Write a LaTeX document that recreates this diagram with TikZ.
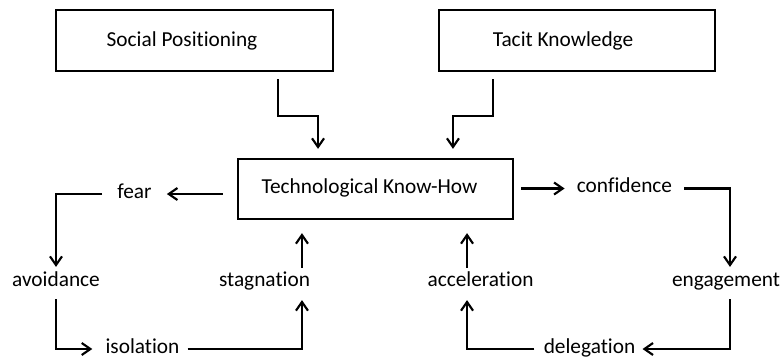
\documentclass[tikz,border=0pt]{standalone}
\usepackage{fontspec}
\setmainfont{Carlito}[Ligatures={NoCommon,NoContextual},RawFeature={-liga;-clig;-dlig}]
\usetikzlibrary{arrows.meta}
\begin{document}
\begin{tikzpicture}[x=0.75pt,y=-0.75pt,
  box/.style={draw,line width=1.7pt,rectangle,inner sep=0pt},
  lbl/.style={font=\fontsize{16}{19}\selectfont,text height=0.65em,text depth=0pt,inner sep=0pt,anchor=center},
  arr/.style={line width=1.6pt,-{Straight Barb[length=6.5pt,width=9pt]}}]
\useasboundingbox (0,0) rectangle (782,361);
% boxes
\node[box,minimum width=207.75pt,minimum height=45.75pt] (sp) at (194.5,40.5) {};
\node[box,minimum width=207pt,minimum height=45.75pt] (tacit) at (577,40.5) {};
\node[box,minimum width=206.25pt,minimum height=45pt] (tk) at (375.5,189) {};
\node[lbl] (sptext) at (182,42.5) {Social Positioning};
\node[lbl] (tacittext) at (563,42.5) {Tacit Knowledge};
\node[lbl] (tktext) at (369.5,189.5) {Technological Know-How};
% labels
\node[lbl] (fear) at (134.5,194) {fear};
\node[lbl] (avoidance) at (56,282.5) {avoidance};
\node[lbl] (stagnation) at (264.5,282.5) {stagnation};
\node[lbl] (isolation) at (142.5,349) {isolation};
\node[lbl] (confidence) at (624.5,188.5) {confidence};
\node[lbl] (engagement) at (726,282.5) {engagement};
\node[lbl] (acceleration) at (480.5,282.5) {acceleration};
\node[lbl] (delegation) at (589.5,349) {delegation};
% top connectors
\draw[arr,shorten <=5.25pt,shorten >=6.75pt] ([xshift=62.6pt]sp.south) -- ++(0,44) -| ([xshift=-43.1pt]tk.north);
\draw[arr,shorten <=5.25pt,shorten >=6.75pt] ([xshift=-63pt]tacit.south) -- ++(0,44) -| ([xshift=58.1pt]tk.north);
% left loop
\draw[arr,shorten <=10.5pt,shorten >=11.25pt] (tk.west |- fear) -- (fear.east);
\draw[arr,shorten <=11.25pt,shorten >=8.25pt] (fear.west) -| (avoidance.north);
\draw[arr,shorten <=9pt,shorten >=9.75pt] (avoidance.south) |- (isolation.west);
\draw[arr,shorten <=6pt,shorten >=9.75pt] (isolation.east) -| ([xshift=28.1pt]stagnation.south);
\draw[arr,shorten <=7.5pt,shorten >=9.75pt] ([xshift=28.1pt]stagnation.north) -- ([xshift=28.1pt]stagnation.north |- tk.south);
% right loop
\draw[arr,shorten <=5.25pt,shorten >=9pt] (tk.east |- confidence) -- (confidence.west);
\draw[arr,shorten <=9pt,shorten >=8.25pt] (confidence.east) -| ([xshift=3pt]engagement.north);
\draw[arr,shorten <=9pt,shorten >=5.25pt] ([xshift=3pt]engagement.south) |- (delegation.east);
\draw[arr,shorten <=6.75pt,shorten >=9.75pt] (delegation.west) -| ([xshift=-10.1pt]acceleration.south);
\draw[arr,shorten <=7.5pt,shorten >=9.75pt] ([xshift=-10.1pt]acceleration.north) -- ([xshift=-10.1pt]acceleration.north |- tk.south);
\end{tikzpicture}
\end{document}
